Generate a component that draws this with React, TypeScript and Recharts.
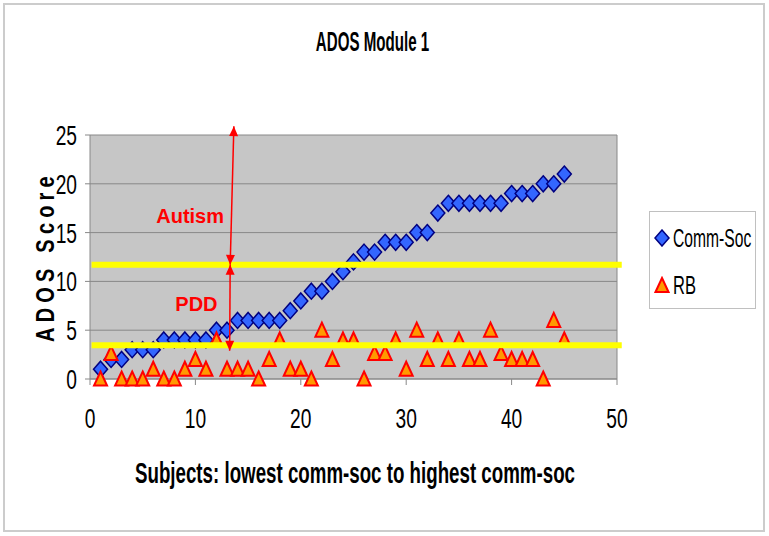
import React from 'react'
import {
  ScatterChart,
  Scatter,
  XAxis,
  YAxis,
  CartesianGrid,
  ReferenceLine,
  ReferenceDot,
} from 'recharts'

const subjects = [
  1, 2, 3, 4, 5, 6, 7, 8, 9, 10, 11, 12, 13, 14, 15, 16, 17, 18, 19, 20, 21, 22, 23,
  24, 25, 26, 27, 28, 29, 30, 31, 32, 33, 34, 35, 36, 37, 38, 39, 40, 41, 42, 43, 44, 45,
]

const commSoc = [
  1, 2, 2, 3, 3, 3, 4, 4, 4, 4, 4, 5, 5, 6, 6, 6, 6, 6, 7, 8, 9, 9, 10, 11, 12, 13, 13,
  14, 14, 14, 15, 15, 17, 18, 18, 18, 18, 18, 18, 19, 19, 19, 20, 20, 21,
]

const rb = [
  0, 2.6, 0, 0, 0, 1, 0, 0, 1, 2, 1, 4, 1, 1, 1, 0, 2, 4, 1, 1, 0, 5, 2, 4, 4, 0, 2.6,
  2.6, 4, 1, 5, 2, 4, 2, 4, 2, 2, 5, 2.6, 2, 2, 2, 0, 6, 4,
]

const xTicks = [0, 10, 20, 30, 40, 50]
const yTicks = [0, 5, 10, 15, 20, 25]

// cutoff lines and arrow ends
const autismCutoff = 11.7
const pddCutoff = 3.45
const arrowTop = { x: 13.65, y: 25.9 }
const arrowMid = { x: 13.3, y: autismCutoff }
const arrowBottom = { x: 13.25, y: 2.9 }

const commSocData = subjects.map((s, i) => ({ x: s, y: commSoc[i] }))
const rbData = subjects.map((s, i) => ({ x: s, y: rb[i] }))

const FONT = '"Liberation Sans", Arial, sans-serif'

const Diamond = (props: any) => {
  const { cx, cy } = props
  if (cx == null || cy == null) return null
  return (
    <polygon
      points={`${cx},${cy - 8} ${cx + 7},${cy} ${cx},${cy + 8} ${cx - 7},${cy}`}
      fill="#3366ff"
      stroke="#000080"
      strokeWidth={1.5}
    />
  )
}

const Triangle = (props: any) => {
  const { cx, cy } = props
  if (cx == null || cy == null) return null
  return (
    <polygon
      points={`${cx},${cy - 7.5} ${cx + 6.5},${cy + 6.5} ${cx - 6.5},${cy + 6.5}`}
      fill="#ff9900"
      stroke="#ff0000"
      strokeWidth={2}
    />
  )
}

const head = (tx: number, ty: number, fx: number, fy: number) => {
  // arrowhead with tip at (tx,ty) coming from (fx,fy)
  const dx = tx - fx
  const dy = ty - fy
  const len = Math.sqrt(dx * dx + dy * dy) || 1
  const ux = dx / len
  const uy = dy / len
  const L = 10
  const W = 4.5
  const bx = tx - ux * L
  const by = ty - uy * L
  return `${tx},${ty} ${bx - uy * W},${by + ux * W} ${bx + uy * W},${by - ux * W}`
}

const DoubleArrow = (props: any) => {
  const { x1, y1, x2, y2 } = props
  if (x1 == null) return null
  return (
    <g>
      <line x1={x1} y1={y1} x2={x2} y2={y2} stroke="#ff0000" strokeWidth={1.5} />
      <polygon points={head(x1, y1, x2, y2)} fill="#ff0000" />
      <polygon points={head(x2, y2, x1, y1)} fill="#ff0000" />
    </g>
  )
}

const YTick = (props: any) => {
  const { x, y, payload } = props
  return (
    <text
      transform={`translate(${x - 6},${y}) scale(0.8,1.15)`}
      textAnchor="end"
      dy="0.36em"
      fontFamily={FONT}
      fontSize={24}
      fill="#000"
    >
      {payload.value}
    </text>
  )
}

const XTick = (props: any) => {
  const { x, y, payload } = props
  return (
    <text
      transform={`translate(${x},${y + 31}) scale(0.8,1.15)`}
      textAnchor="middle"
      dy="0.36em"
      fontFamily={FONT}
      fontSize={24}
      fill="#000"
    >
      {payload.value}
    </text>
  )
}

const LegendBox = () => (
  <div
    style={{
      position: 'absolute',
      left: 649,
      top: 211,
      width: 107,
      height: 98,
      border: '1px solid #c0c0c0',
      background: '#fff',
      fontFamily: FONT,
      fontSize: 23,
      boxSizing: 'border-box',
      whiteSpace: 'nowrap',
    }}
  >
    <div style={{ position: 'absolute', left: 4, top: 10, height: 32, display: 'flex', alignItems: 'center' }}>
      <svg width={16} height={18}>
        <polygon points="8,1 15,9 8,17 1,9" fill="#3366ff" stroke="#000080" strokeWidth={1.5} />
      </svg>
      <span style={{ display: 'inline-block', transform: 'scale(0.68,1.1)', transformOrigin: 'left center', marginLeft: 3 }}>
        Comm-Soc
      </span>
    </div>
    <div style={{ position: 'absolute', left: 4, top: 57, height: 32, display: 'flex', alignItems: 'center' }}>
      <svg width={16} height={18}>
        <polygon points="8,2 14.5,16 1.5,16" fill="#ff9900" stroke="#ff0000" strokeWidth={2} />
      </svg>
      <span style={{ display: 'inline-block', transform: 'scale(0.72,1.1)', transformOrigin: 'left center', marginLeft: 3 }}>
        RB
      </span>
    </div>
  </div>
)

const App: React.FC = () => {
  return (
    <div style={{ position: 'absolute', left: 0, top: 0, width: 769, height: 536, background: '#fff' }}>
      <div
        style={{
          position: 'absolute',
          left: 3,
          top: 3,
          width: 762,
          height: 529,
          border: '2px solid #cccccc',
          boxSizing: 'border-box',
        }}
      />
      <div
        style={{
          position: 'absolute',
          left: 0,
          width: 745,
          top: 26,
          textAlign: 'center',
          fontFamily: FONT,
          fontWeight: 'bold',
          fontSize: 27,
          lineHeight: '32px',
          transform: 'scale(0.56,1.05)',
        }}
      >
        ADOS Module 1
      </div>
      <div
        style={{
          position: 'absolute',
          left: 0,
          width: 710,
          top: 457,
          textAlign: 'center',
          fontFamily: FONT,
          fontWeight: 'bold',
          fontSize: 26,
          lineHeight: '32px',
          transform: 'scale(0.72,1.1)',
        }}
      >
        Subjects: lowest comm-soc to highest comm-soc
      </div>
      <div style={{ position: 'absolute', left: 45, top: 262, width: 0, height: 0 }}>
        <div
          style={{
            position: 'absolute',
            left: -100,
            top: -16,
            width: 200,
            textAlign: 'center',
            fontFamily: FONT,
            fontWeight: 'bold',
            fontSize: 25,
            lineHeight: '32px',
            letterSpacing: 6.5,
            transform: 'rotate(-90deg) scaleX(0.8)',
            whiteSpace: 'nowrap',
          }}
        >
          ADOS Score
        </div>
      </div>
      <div style={{ position: 'absolute', left: 0, top: 0 }}>
        <ScatterChart width={769} height={536} margin={{ top: 135, right: 152, bottom: 117, left: 0 }}>
          <CartesianGrid vertical={false} stroke="#888888" fill="#c6c6c6" fillOpacity={1} />
          <XAxis
            type="number"
            dataKey="x"
            domain={[0, 50]}
            ticks={xTicks}
            height={40}
            tickSize={6}
            stroke="#888888"
            tick={<XTick />}
            interval={0}
          />
          <YAxis
            type="number"
            dataKey="y"
            domain={[0, 25]}
            ticks={yTicks}
            width={90}
            tickSize={5}
            stroke="#888888"
            tick={<YTick />}
            interval={0}
          />
          <ReferenceLine x={50} stroke="#888888" />
          <Scatter name="Comm-Soc" data={commSocData} shape={<Diamond />} isAnimationActive={false} />
          <Scatter name="RB" data={rbData} shape={<Triangle />} isAnimationActive={false} />
          <ReferenceLine
            segment={[{ x: 0.15, y: autismCutoff }, { x: 50.45, y: autismCutoff }]}
            stroke="#ffff00"
            strokeWidth={6}
            ifOverflow="visible"
            zIndex={700}
          />
          <ReferenceLine
            segment={[{ x: 0.15, y: pddCutoff }, { x: 50.45, y: pddCutoff }]}
            stroke="#ffff00"
            strokeWidth={6}
            ifOverflow="visible"
            zIndex={700}
          />
          <ReferenceLine segment={[arrowTop, arrowMid]} ifOverflow="visible" shape={<DoubleArrow />} zIndex={800} />
          <ReferenceLine segment={[arrowMid, arrowBottom]} ifOverflow="visible" shape={<DoubleArrow />} zIndex={800} />
          <ReferenceDot
            x={9.5}
            y={16.7}
            r={0}
            ifOverflow="visible"
            zIndex={800}
            shape={(p: any) => (
              <text x={p.cx} y={p.cy} dy="0.36em" textAnchor="middle" fill="#ff0000" fontFamily={FONT} fontWeight="bold" fontSize={20}>
                Autism
              </text>
            )}
          />
          <ReferenceDot
            x={10.1}
            y={7.7}
            r={0}
            ifOverflow="visible"
            zIndex={800}
            shape={(p: any) => (
              <text x={p.cx} y={p.cy} dy="0.36em" textAnchor="middle" fill="#ff0000" fontFamily={FONT} fontWeight="bold" fontSize={20}>
                PDD
              </text>
            )}
          />
        </ScatterChart>
      </div>
      <LegendBox />
    </div>
  )
}

export default App
